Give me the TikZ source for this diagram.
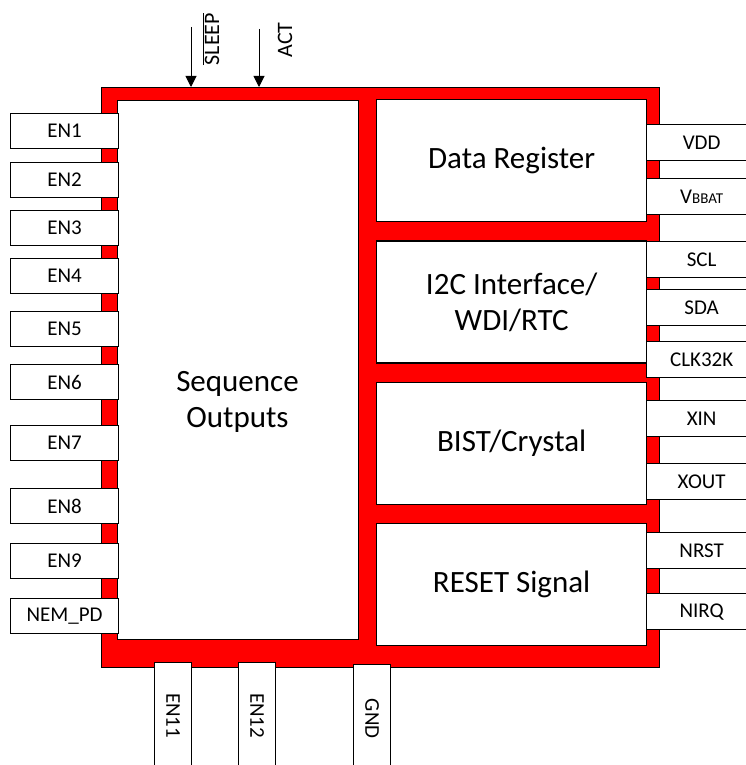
\documentclass[tikz,border=0pt]{standalone}
\usepackage{fontspec}
\setmainfont{Carlito}
\usepackage{xcolor}
\usepackage{graphicx}
\usetikzlibrary{arrows.meta,positioning}

\begin{document}
\begin{tikzpicture}[x=1pt, y=-1pt, line width=1.3pt,
  pinbox/.style={draw, fill=white, inner sep=0pt, anchor=north west, font=\fontsize{21}{25}\selectfont},
  lpin/.style={pinbox, minimum width=108pt, minimum height=35pt},
  rpin/.style={pinbox, minimum width=110pt, minimum height=36pt},
  bpin/.style={pinbox, minimum width=37pt, minimum height=106pt},
  block/.style={draw, fill=white, inner sep=0pt, align=center, font=\fontsize{31}{36}\selectfont},
  sigarrow/.style={-{Triangle[width=11pt,length=11pt]}, line width=1pt}]
\useasboundingbox (0,0) rectangle (745,765);

% package body
\node[draw, fill=red, inner sep=0pt, anchor=north west, minimum width=558pt, minimum height=580pt] (chip) at (101,87) {};

% inner blocks
\node[block, anchor=north west, minimum width=241pt, minimum height=539pt] (seq) at (117,100) {};
\node[align=center, font=\fontsize{31}{36}\selectfont] (seqlbl) at (237.5,402) {Sequence\\Outputs};
\node[block, anchor=north west, minimum width=270pt, minimum height=122pt] (datareg) at (376,99) {Data Register};
\node[block, minimum width=270pt, minimum height=122pt, below=18pt of datareg] (i2c) {I2C Interface/\\WDI/RTC};
\node[block, minimum width=270pt, minimum height=122pt, below=18pt of i2c] (bist) {BIST/Crystal};
\node[block, minimum width=270pt, minimum height=122pt, below=18pt of bist] (reset) {RESET Signal};

% left pins
\node[lpin] (en1) at (10,113) {EN1};
\node[lpin] (en2) at (10,162) {EN2};
\node[lpin] (en3) at (10,210) {EN3};
\node[lpin] (en4) at (10,258) {EN4};
\node[lpin] (en5) at (10,311) {EN5};
\node[lpin] (en6) at (10,364) {EN6};
\node[lpin] (en7) at (10,425) {EN7};
\node[lpin] (en8) at (10,488) {EN8};
\node[lpin] (en9) at (10,543) {EN9};
\node[lpin] (nempd) at (10,598) {NEM\_PD};

% right pins
\node[rpin] (vdd) at (646,124) {VDD};
\node[rpin] (vbbat) at (646,178) {V{\fontsize{15}{18}\selectfont BBAT}};
\node[rpin] (scl) at (646,241) {SCL};
\node[rpin] (sda) at (646,289) {SDA};
\node[rpin] (clk) at (646,341) {CLK32K};
\node[rpin] (xin) at (646,400) {XIN};
\node[rpin] (xout) at (646,463) {XOUT};
\node[rpin] (nrst) at (646,532) {NRST};
\node[rpin] (nirq) at (646,593) {NIRQ};

% bottom pins
\node[bpin] (en11) at (154,662) {\rotatebox{-90}{EN11}};
\node[bpin] (en12) at (238,662) {\rotatebox{-90}{EN12}};
\node[bpin, minimum height=108pt] (gnd) at (353,664) {\rotatebox{-90}{GND}};

% control inputs
\coordinate (sleep) at (191,27);
\coordinate (act) at (259,29);
\draw[sigarrow] (sleep) -- (sleep |- chip.north);
\draw[sigarrow] (act) -- (act |- chip.north);
\node[rotate=90, font=\fontsize{22}{26}\selectfont] (sleeplbl) at (211,39) {$\overline{\hbox{SLEEP}}$};
\node[rotate=90, font=\fontsize{22}{26}\selectfont] (actlbl) at (285,40) {ACT};
\end{tikzpicture}
\end{document}
